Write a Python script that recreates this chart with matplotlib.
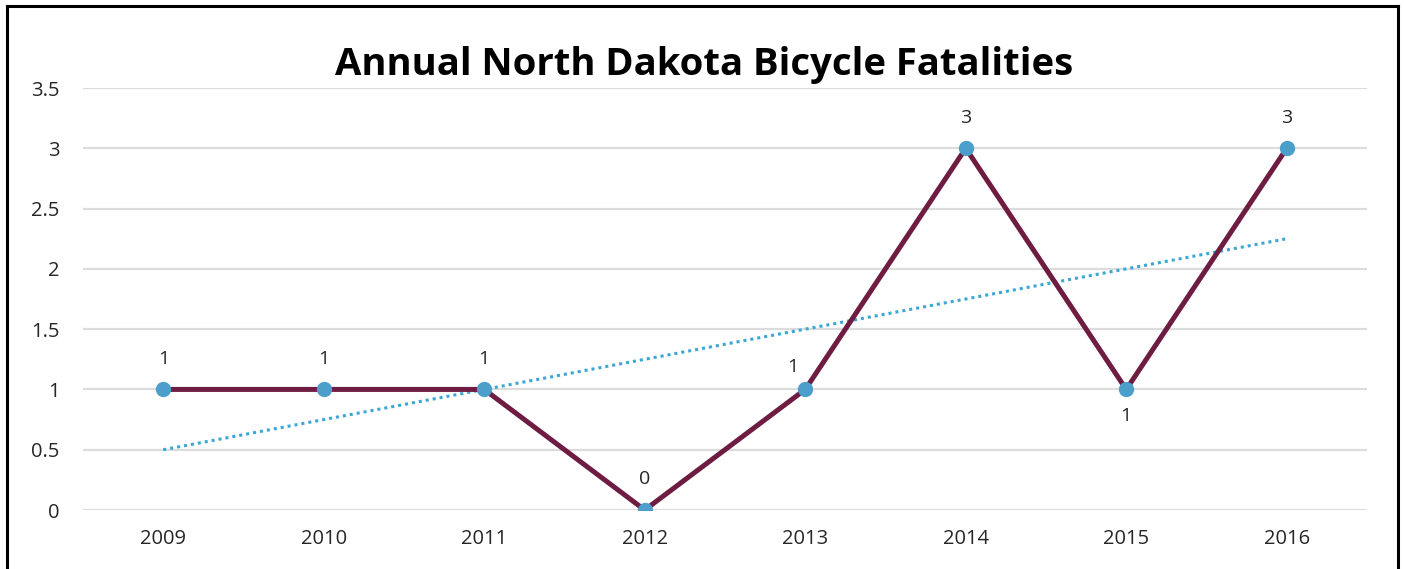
import numpy as np
import matplotlib.pyplot as plt
from matplotlib.lines import Line2D

years = ['2009', '2010', '2011', '2012', '2013', '2014', '2015', '2016']
fatalities = [1, 1, 1, 0, 1, 3, 1, 3]
y_ticks = [0, 0.5, 1, 1.5, 2, 2.5, 3, 3.5]
y_tick_labels = ['0', '0.5', '1', '1.5', '2', '2.5', '3', '3.5']
# label offsets in points (dx, dy) per point
label_offsets = [(0, 22), (0, 22), (0, 22), (0, 22), (-9, 16), (0, 22), (0, -19), (0, 22)]

LINE_COLOR = '#6e1c41'
MARKER_COLOR = '#4b9fca'
TREND_COLOR = '#3aa7d4'
TEXT_COLOR = '#262626'

plt.rcParams['font.family'] = ['Open Sans', 'DejaVu Sans']

fig = plt.figure(figsize=(14.04, 5.69), dpi=100)
ax = fig.add_axes([83 / 1404, 59 / 569, (1367 - 83) / 1404, (510 - 88) / 569])

x = np.arange(len(years))
ax.plot(x, fatalities, color=LINE_COLOR, lw=3.6, zorder=3, solid_capstyle='round')
ax.plot(x, fatalities, 'o', color=MARKER_COLOR, ms=10, zorder=4)

slope, intercept = np.polyfit(x, fatalities, 1)
ax.plot(x[[0, -1]], slope * x[[0, -1]] + intercept, color=TREND_COLOR, lw=2.2,
        ls=(0, (1, 1.3)), zorder=2)

for xi, yi, (dx, dy) in zip(x, fatalities, label_offsets):
    ax.annotate(str(yi), (xi, yi), xytext=(dx, dy), textcoords='offset points',
                ha='center', va='center', fontsize=14, color=TEXT_COLOR)

ax.set_xlim(-0.5, len(years) - 0.5)
ax.set_ylim(0, 3.5)
ax.set_xticks(x)
ax.set_xticklabels(years, fontsize=14.5, color=TEXT_COLOR)
ax.set_yticks(y_ticks)
ax.set_yticklabels(y_tick_labels, fontsize=14.5, color=TEXT_COLOR)
ax.tick_params(length=0)
ax.tick_params(axis='x', pad=14)
ax.tick_params(axis='y', pad=17)
ax.yaxis.grid(True, color='#dcdcdc', lw=1.6)
ax.set_axisbelow(True)
for s in ax.spines.values():
    s.set_visible(False)

fig.text(704 / 1404, 1 - 65 / 569, 'Annual North Dakota Bicycle Fatalities',
         ha='center', va='center', fontsize=27.5, fontweight='bold', color='black')

# outer frame (bottom edge cut off)
fw = 2.2
fig.add_artist(Line2D([7 / 1404, 7 / 1404], [0, 1 - 6 / 569], color='black', lw=fw))
fig.add_artist(Line2D([1398 / 1404, 1398 / 1404], [0, 1 - 6 / 569], color='black', lw=fw))
fig.add_artist(Line2D([7 / 1404, 1398 / 1404], [1 - 6 / 569, 1 - 6 / 569], color='black', lw=fw))

fig.savefig('out.png', dpi=100)
